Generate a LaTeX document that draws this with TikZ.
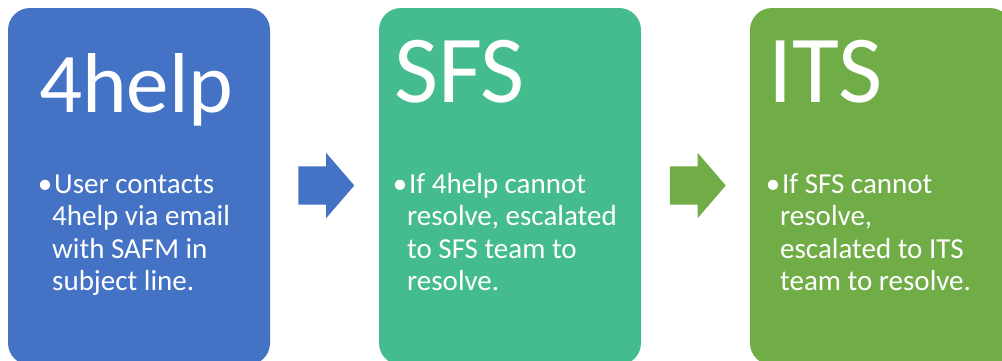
\documentclass[tikz,border=0pt]{standalone}
\usepackage{fontspec}
\setmainfont{Carlito}
\usetikzlibrary{shapes.arrows}
\definecolor{stepblue}{HTML}{4472C4}
\definecolor{stepteal}{HTML}{45BC8D}
\definecolor{stepgreen}{HTML}{70AD47}

\begin{document}
\begin{tikzpicture}[x=1pt,y=-1pt,
  stage/.style={rounded corners=22pt,minimum width=262pt,minimum height=357pt,inner sep=0pt},
  stagetitle/.style={text=white,anchor=base west,inner sep=0pt},
  stagetext/.style={text=white,anchor=base west,align=left,inner sep=0pt,font=\fontsize{29}{32.3}\selectfont},
  flow/.style={single arrow,minimum height=56pt,inner xsep=0pt,inner ysep=19pt,
    single arrow head extend=13.5pt,single arrow tip angle=98.5}]
\clip (0,0) rectangle (1002,360);
% the three stages
\node[stage,fill=stepblue] (help) at (139,186.5) {};
\node[stage,fill=stepteal] (sfs) at (510,186.5) {};
\node[stage,fill=stepgreen] (its) at (881,186.5) {};
\node[stagetitle,font=\fontsize{85}{85}\selectfont] (helpt) at (39,112) {4help};
\node[stagetitle,font=\fontsize{96}{96}\selectfont] (sfst) at (394,102) {SFS};
\node[stagetitle,font=\fontsize{96}{96}\selectfont] (itst) at (768,102) {ITS};
% base of a multi-line node is its last line
\node[stagetext] (helpb) at (52,290.4) {\llap{\textbullet}\hspace{2pt}User contacts\\4help via email\\with SAFM in\\subject line.};
\node[stagetext] (sfsb) at (407,290.4) {\llap{\textbullet}\hspace{2pt}If 4help cannot\\resolve, escalated\\to SFS team to\\resolve.};
\node[stagetext] (itsb) at (780,290.4) {\llap{\textbullet}\hspace{2pt}If SFS cannot\\resolve,\\escalated to ITS\\team to resolve.};
% arrows between
\node[flow,fill=stepblue] (arra) at (318,185.5) {};
\node[flow,fill=stepgreen] (arrb) at (689.5,185.5) {};
\end{tikzpicture}
\end{document}
